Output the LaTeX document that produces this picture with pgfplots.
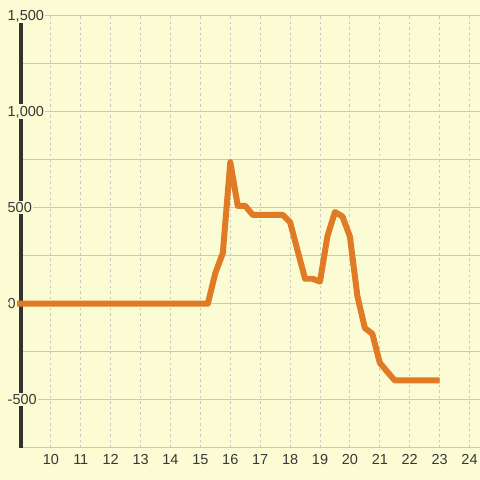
\documentclass[border=0pt]{standalone}
\usepackage{pgfplots}
\pgfplotsset{compat=1.18}
\usepackage{fontspec}
\setmainfont{Liberation Sans}
\definecolor{bgc}{RGB}{252,252,212}
\definecolor{lineor}{RGB}{224,122,36}
\definecolor{gridc}{RGB}{200,200,200}
\definecolor{dark}{RGB}{51,51,51}
\definecolor{txt}{RGB}{55,55,55}
\pgfplotsset{
  layers/mine/.define layer set={axis background,axis grid,axis ticks,axis lines,main,axis tick labels,axis descriptions,axis foreground}{},
}
\pgfplotstableread{
x y
8.87 0
15.25 0
15.5 160
15.75 264
16 738
16.25 510
16.5 510
16.75 463
17 463
17.25 463
17.5 463
17.75 463
18 425
18.25 277
18.5 130
18.75 130
19 115
19.25 353
19.5 478
19.75 455
20 350
20.25 40
20.5 -127
20.75 -157
21 -308
21.25 -355
21.5 -400
21.75 -400
22 -400
22.25 -400
22.5 -400
22.75 -400
23 -400
}\datatable
\begin{document}
\begin{tikzpicture}
\fill[bgc] (0,0) rectangle (480bp,480bp);
\begin{axis}[
  set layers=mine,
  at={(21bp,32bp)}, anchor=south west,
  scale only axis, width=459bp, height=432bp,
  xmin=9, xmax=24.334, ymin=-750, ymax=1500,
  clip=false,
  axis lines*=left,
  x axis line style={draw=none},
  y axis line style={draw=dark, line width=3.2bp},
  xtick={10,...,24},
  ytick={-500,0,500,1000,1500},
  yticklabels={-500,0,500,{1,000},{1,500}},
  minor ytick={-750,-250,250,750,1250},
  major tick length=0pt, minor tick length=0pt,
  xmajorgrids, ymajorgrids, yminorgrids,
  major x grid style={draw=gridc, line width=1bp, dash pattern=on 2.5bp off 3bp},
  major y grid style={draw=gridc, line width=1bp},
  minor y grid style={draw=gridc, line width=1bp},
  extra y ticks={0}, extra y tick labels={},
  extra y tick style={grid style={draw=dark, line width=3bp}, major tick length=0pt},
  /pgf/number format/assume math mode=true,
  tick label style={font=\fontsize{14.5bp}{17bp}\selectfont, text=txt},
  xticklabel style={anchor=north, yshift=-6.5bp, inner sep=0pt},
  yticklabel style={anchor=west, xshift=-15bp, inner sep=1.5bp, fill=bgc},
]
\addplot[draw=lineor, line width=6bp, line join=round, no markers] table[x=x,y=y] {\datatable};
\end{axis}
\end{tikzpicture}
\end{document}
